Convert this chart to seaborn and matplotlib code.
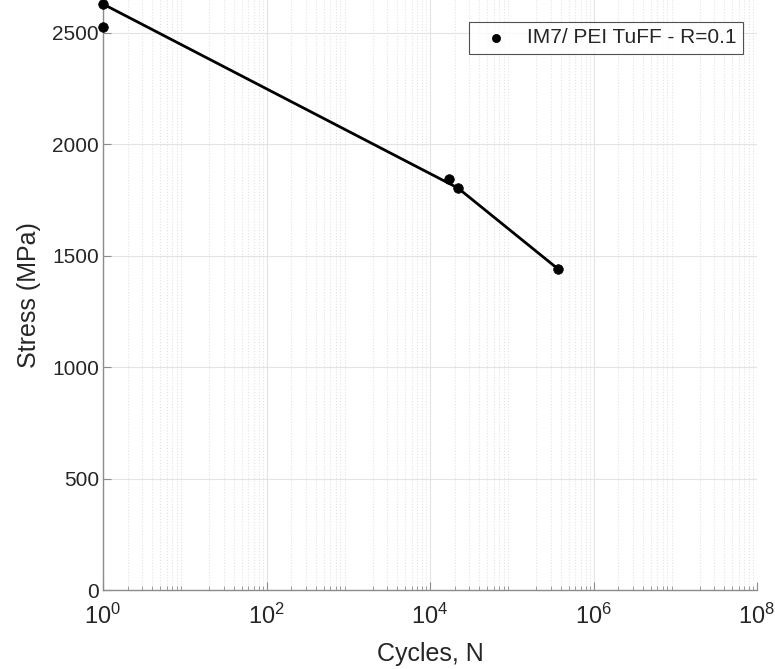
import numpy as np
import pandas as pd
import matplotlib
matplotlib.use("Agg")
import matplotlib.pyplot as plt
import seaborn as sns
from matplotlib.ticker import LogLocator, NullFormatter

# Data
cycles = [1.0, 1.0, 1.7e4, 2.2e4, 3.68e5]
stress = [2630, 2525, 1845, 1804, 1441]
line_cycles = [1.0, 2.2e4, 3.68e5]
line_stress = [2630, 1804, 1441]
series_label = "IM7/ PEI TuFF - R=0.1"
y_ticks = [0, 500, 1000, 1500, 2000, 2500]

sns.set_theme(style="white")
plt.rcParams['font.family'] = ['Liberation Sans', 'DejaVu Sans']
plt.rcParams['mathtext.fontset'] = 'custom'
plt.rcParams['mathtext.rm'] = 'Liberation Sans'
plt.rcParams['mathtext.it'] = 'Liberation Sans:italic'
plt.rcParams['mathtext.default'] = 'regular'

fig = plt.figure(figsize=(7.75, 6.69), dpi=100)
ax = fig.add_axes([103/775, 79/669, 654/775, 1 - 79/669])

pts = pd.DataFrame({"Cycles": cycles, "Stress": stress})
ln = pd.DataFrame({"Cycles": line_cycles, "Stress": line_stress})

sns.lineplot(data=ln, x="Cycles", y="Stress", ax=ax, color="black", lw=2,
             sort=False, estimator=None, legend=False, zorder=3)
sns.scatterplot(data=pts, x="Cycles", y="Stress", ax=ax, color="black", s=48,
                edgecolor="black", linewidth=0.5, label=series_label, zorder=4,
                clip_on=False)

ax.set_xscale("log")
ax.set_xlim(1, 1e8)
ax.set_ylim(0, 590 / 0.2228)
ax.set_yticks(y_ticks)
ax.set_xticks([1, 1e2, 1e4, 1e6, 1e8])
ax.xaxis.set_minor_locator(LogLocator(base=10, subs=np.arange(2, 10), numticks=100))
ax.xaxis.set_minor_formatter(NullFormatter())

ax.grid(True, which="major", color="#e3e3e3", lw=0.8, ls="-")
ax.grid(True, which="minor", axis="x", color="#e3e3e3", lw=0.8, ls=":")
ax.set_axisbelow(True)

for s in ["top", "right"]:
    ax.spines[s].set_visible(False)
for s in ["left", "bottom"]:
    ax.spines[s].set_color("#8c8c8c")
    ax.spines[s].set_linewidth(1.0)

ax.tick_params(axis="both", which="major", direction="in", length=6, width=0.8,
               color="#8c8c8c", labelsize=15, labelcolor="#262626",
               bottom=True, left=True, pad=3)
ax.tick_params(axis="x", which="major", labelsize=17, pad=10)
ax.tick_params(axis="x", which="minor", direction="in", length=3, width=0.6,
               color="#8c8c8c", bottom=True)

ax.set_xlabel("Cycles, N", fontsize=18, color="#262626", labelpad=9)
ax.set_ylabel("Stress (MPa)", fontsize=18, color="#262626", labelpad=8)

leg = ax.legend(loc="upper right", fontsize=15, frameon=True,
                fancybox=False, edgecolor="#262626", handletextpad=0.5,
                handlelength=2.0, borderpad=0.3, borderaxespad=0,
                markerscale=0.85)
leg.get_frame().set_linewidth(0.8)
leg.set_bbox_to_anchor((743/775, 1 - 22/669), transform=fig.transFigure)

fig.savefig("out.png", dpi=100)
